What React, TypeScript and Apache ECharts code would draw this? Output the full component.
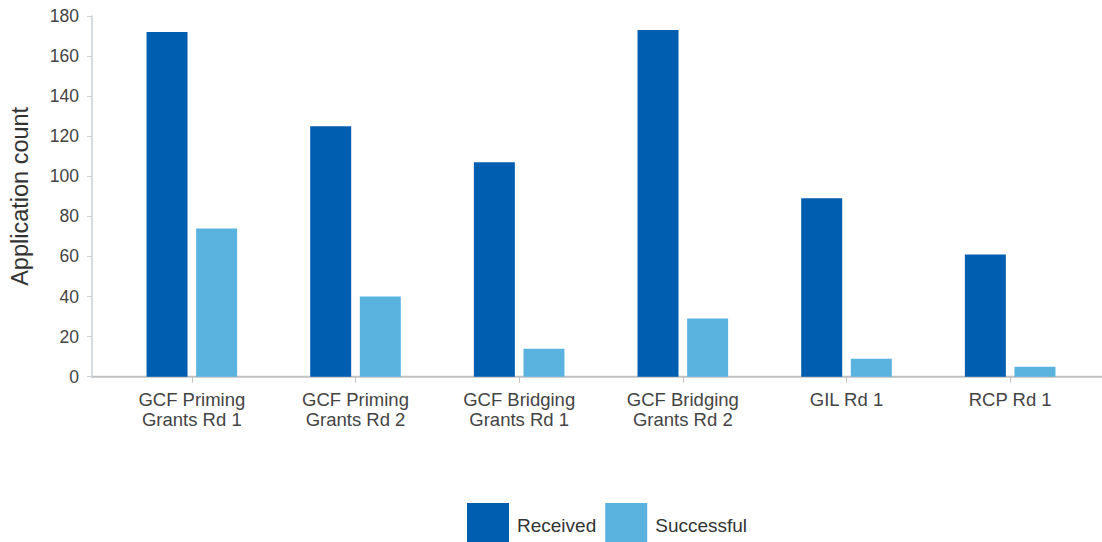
import React, { useEffect, useRef } from "react";
import * as echarts from "echarts";

// Application rounds and counts
const categories = [
  "GCF Priming\nGrants Rd 1",
  "GCF Priming\nGrants Rd 2",
  "GCF Bridging\nGrants Rd 1",
  "GCF Bridging\nGrants Rd 2",
  "GIL Rd 1",
  "RCP Rd 1",
];
const received = [172, 125, 107, 173, 89, 61];
const successful = [74, 40, 14, 29, 9, 5];
const yTicks = { min: 0, max: 180, interval: 20 };

const FONT = "'Liberation Sans', Arial, sans-serif";
const W = 1102;
const H = 542;
const GRID = { left: 109, right: 10, top: 16, bottom: 165.3 };
const AXIS_X = 91; // where the value axis line sits

export default function App() {
  const ref = useRef<HTMLDivElement>(null);

  useEffect(() => {
    if (!ref.current) return;
    const chart = echarts.init(ref.current, undefined, { renderer: "svg" });
    const baseY = H - GRID.bottom;
    chart.setOption({
      animation: false,
      backgroundColor: "#ffffff",
      textStyle: { fontFamily: FONT },
      grid: { ...GRID, containLabel: false },
      legend: {
        left: 467,
        top: 503,
        padding: 0,
        itemWidth: 42,
        itemHeight: 44,
        itemGap: 9,
        icon: "rect",
        textStyle: {
          fontFamily: FONT,
          fontSize: 19,
          color: "#333333",
          padding: [0, 0, 0, 3],
        },
        data: ["Received", "Successful"],
      },
      xAxis: {
        type: "category",
        data: categories,
        axisLine: { show: false },
        axisTick: {
          show: true,
          alignWithLabel: true,
          length: 6,
          lineStyle: { color: "#c0c0c0", width: 1 },
        },
        axisLabel: {
          fontFamily: FONT,
          fontSize: 18.5,
          lineHeight: 20,
          color: "#444444",
          margin: 13,
          interval: 0,
        },
      },
      yAxis: {
        type: "value",
        min: yTicks.min,
        max: yTicks.max,
        interval: yTicks.interval,
        offset: GRID.left - AXIS_X,
        name: "Application count",
        nameLocation: "middle",
        nameGap: 60,
        nameTextStyle: { fontFamily: FONT, fontSize: 23.5, color: "#333333" },
        axisLine: { show: true, lineStyle: { color: "#c8d0d8", width: 1.5 } },
        axisTick: { show: true, length: 5, lineStyle: { color: "#c8d0d8", width: 1 } },
        axisLabel: {
          fontFamily: FONT,
          fontSize: 17.5,
          color: "#444444",
          margin: 13,
        },
        splitLine: { show: false },
      },
      graphic: [
        {
          type: "line",
          z: 0,
          shape: { x1: AXIS_X, y1: baseY, x2: W, y2: baseY },
          style: { stroke: "#c0c0c0", lineWidth: 2 },
        },
      ],
      series: [
        {
          name: "Received",
          type: "bar",
          data: received,
          barWidth: 41,
          barGap: "21%",
          itemStyle: { color: "#005EB0" },
          z: 2,
        },
        {
          name: "Successful",
          type: "bar",
          data: successful,
          barWidth: 41,
          itemStyle: { color: "#59B3DE" },
          z: 2,
        },
      ],
    });
    return () => chart.dispose();
  }, []);

  return (
    <div
      ref={ref}
      style={{ position: "absolute", left: 0, top: 0, width: W, height: H }}
    />
  );
}
